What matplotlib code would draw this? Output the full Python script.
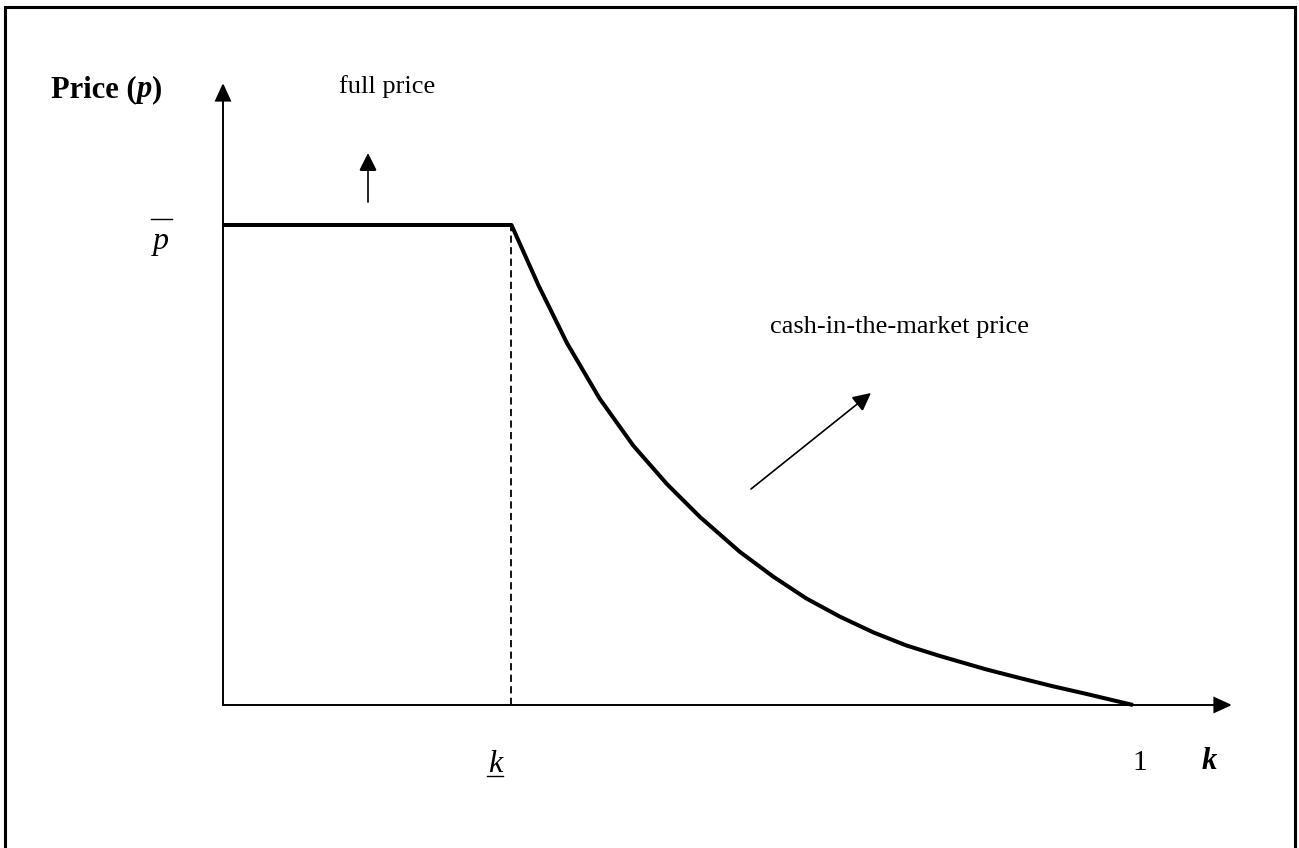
import matplotlib
matplotlib.use("Agg")
import matplotlib.pyplot as plt
from matplotlib.lines import Line2D
from matplotlib.patches import FancyArrowPatch

plt.rcParams['font.family'] = ['Liberation Serif', 'DejaVu Serif']

# ---- data ----
k_low = 0.317          # underline-k threshold
p_bar = 1.0            # full price level
curve_k = [0.0, 0.317, 0.347, 0.378, 0.414, 0.451, 0.488, 0.524, 0.568, 0.605,
           0.641, 0.678, 0.715, 0.751, 0.788, 0.839, 0.876, 0.912, 0.949, 1.0]
curve_p = [1.0, 1.0, 0.873, 0.754, 0.638, 0.540, 0.460, 0.392, 0.319, 0.267,
           0.222, 0.184, 0.151, 0.124, 0.102, 0.074, 0.056, 0.039, 0.023, 0.0]
x_tick_labels = ["k", "1"]
x_label = "k"
y_label = "Price (p)"
label_full = "full price"
label_cash = "cash-in-the-market price"

# ---- layout ----
W, H = 1299, 848
OX, OY = 223, 705      # pixel of origin
SX, SY = 910, 480      # pixels per data unit

def dk(xp):
    return (xp - OX) / SX

def dp(yp):
    return (OY - yp) / SY

fig = plt.figure(figsize=(W / 100, H / 100), dpi=100)
ax = fig.add_axes([0, 0, 1, 1])
ax.set_xlim(dk(0), dk(W))
ax.set_ylim(dp(H), dp(0))
ax.axis('off')

# outer frame (left, top, right)
frame = Line2D([5 / W, 5 / W, 1295 / W, 1295 / W],
               [-0.05, 1 - 7 / H, 1 - 7 / H, -0.05],
               transform=ax.transAxes, color='black', lw=2.2,
               solid_joinstyle='miter', clip_on=False)
ax.add_line(frame)

# axes with arrows
def arrow(x0, y0, x1, y1, lw, hl, hw):
    a = FancyArrowPatch((x0, y0), (x1, y1),
                        arrowstyle=f'-|>,head_length={hl},head_width={hw}',
                        mutation_scale=10, lw=lw, color='black',
                        shrinkA=0, shrinkB=0, joinstyle='miter')
    ax.add_patch(a)

arrow(0, 0, dk(1232), 0, 1.4, 1.1, 0.5)
arrow(0, 0, 0, dp(83), 1.4, 1.1, 0.5)

# dashed drop line at k_low
ax.plot([k_low, k_low], [0, p_bar], color='black', lw=1.3,
        dashes=(4, 2.4))

# price schedule
ax.plot(curve_k, curve_p, color='black', lw=2.9,
        solid_joinstyle='round', solid_capstyle='butt')

# annotation arrows
arrow(dk(368), dp(202), dk(368), dp(153), 1.2, 1.1, 0.55)
arrow(dk(751), dp(489), dk(871), dp(393), 1.2, 1.1, 0.55)

# texts
ax.text(dk(387), dp(93), label_full, fontsize=19, ha='center', va='baseline')
ax.text(dk(770), dp(333), label_cash, fontsize=19, ha='left', va='baseline')

t1 = ax.text(dk(51), dp(97), "Price (", fontsize=22, fontweight='bold',
             ha='left', va='baseline')
t2 = ax.annotate("p", xy=(1, 0), xycoords=t1, fontsize=22, fontweight='bold',
                 fontstyle='italic', ha='left', va='bottom')
ax.annotate(")", xy=(1, 0), xycoords=t2, fontsize=22, fontweight='bold',
            ha='left', va='bottom')

# p-bar label
ax.text(dk(161), dp(249), "p", fontsize=23, fontstyle='italic',
        ha='center', va='baseline')
ax.add_line(Line2D([dk(151), dk(172)], [dp(219), dp(219)],
                   color='black', lw=1.0))

# k-underline label
ax.text(k_low + dk(495) - dk(511), dp(772), x_tick_labels[0], fontsize=23,
        fontstyle='italic', ha='center', va='baseline')
ax.add_line(Line2D([dk(487), dk(503)], [dp(776), dp(776)],
                   color='black', lw=1.0))

# "1" tick label and axis label k
ax.text(1.0 + dk(1140) - dk(1133), dp(770), x_tick_labels[1], fontsize=21,
        ha='center', va='baseline')
ax.text(dk(1209), dp(769), x_label, fontsize=22, fontweight='bold',
        fontstyle='italic', ha='center', va='baseline')

fig.savefig("out.png", dpi=100)
